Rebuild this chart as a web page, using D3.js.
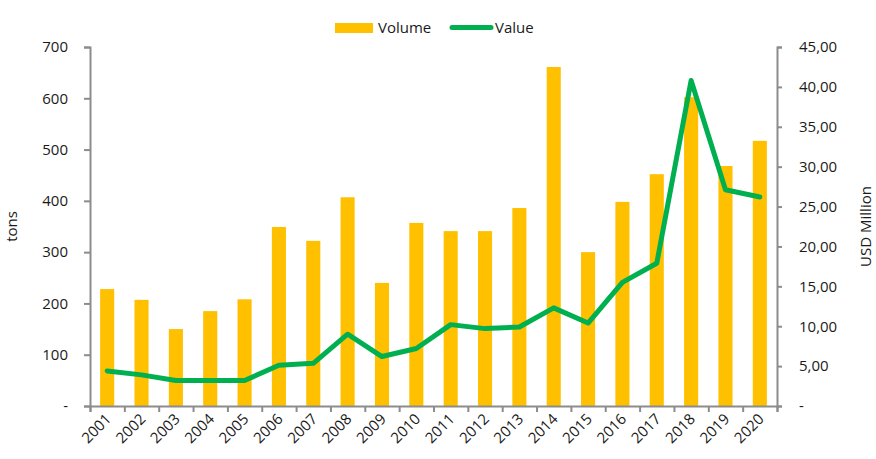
<!DOCTYPE html>
<html>
<head>
<meta charset="utf-8">
<script src="https://cdn.jsdelivr.net/npm/d3@7"></script>
<style>
  body { margin: 0; background: #fff; }
  text { font-family: "Open Sans", sans-serif; fill: #1a1a1a; }
</style>
</head>
<body>
<div></div>
<script>
const years = ["2001","2002","2003","2004","2005","2006","2007","2008","2009","2010",
               "2011","2012","2013","2014","2015","2016","2017","2018","2019","2020"];
const volume = [228, 207, 150, 185, 208, 349, 322, 407, 240, 357,
                341, 341, 386, 661, 300, 398, 452, 602, 468, 517];
const value = [4.4, 3.9, 3.2, 3.2, 3.2, 5.1, 5.35, 9.0, 6.2, 7.2,
               10.2, 9.7, 9.9, 12.3, 10.4, 15.5, 17.9, 40.8, 27.1, 26.2];
const leftTicks = [0, 100, 200, 300, 400, 500, 600, 700];
const rightTicks = [0, 5, 10, 15, 20, 25, 30, 35, 40, 45];

const W = 876, H = 459;
const margin = {left: 90, right: 99, top: 47, bottom: 53};
const fs = 15;

const svg = d3.select("div").append("svg").attr("width", W).attr("height", H);

const x = d3.scaleBand().domain(years).range([margin.left, W - margin.right]).paddingInner(0).paddingOuter(0);
const yL = d3.scaleLinear().domain([0, 700]).range([H - margin.bottom, margin.top]);
const yR = d3.scaleLinear().domain([0, 45]).range([H - margin.bottom, margin.top]);

const barW = x.bandwidth() * 0.41;

// bars
svg.append("g").selectAll("rect").data(years).join("rect")
  .attr("x", d => x(d) + (x.bandwidth() - barW) / 2)
  .attr("width", barW)
  .attr("y", (d, i) => yL(volume[i]))
  .attr("height", (d, i) => yL(0) - yL(volume[i]))
  .attr("fill", "#FFC000");

// line
const line = d3.line()
  .x((d, i) => x(years[i]) + x.bandwidth() / 2)
  .y(d => yR(d));
svg.append("path").datum(value)
  .attr("d", line)
  .attr("fill", "none")
  .attr("stroke", "#00B050")
  .attr("stroke-width", 5)
  .attr("stroke-linejoin", "round")
  .attr("stroke-linecap", "round");

const axisColor = "#8c8c8c";
const fmtL = d => d === 0 ? "-" : d;
const fmtR = d => d === 0 ? "-" : d3.format(".2f")(d).replace(".", ",");

// left axis
const gL = svg.append("g").attr("transform", `translate(${margin.left},0)`)
  .call(d3.axisLeft(yL).tickValues(leftTicks).tickFormat(fmtL).tickSize(6).tickPadding(16));
// right axis
const gR = svg.append("g").attr("transform", `translate(${W - margin.right},0)`)
  .call(d3.axisRight(yR).tickValues(rightTicks).tickFormat(fmtR).tickSize(5).tickPadding(17));
// bottom axis with ticks at category boundaries
const xEdges = d3.scaleLinear().domain([0, years.length]).range([margin.left, W - margin.right]);
const gB = svg.append("g").attr("transform", `translate(0,${H - margin.bottom})`)
  .call(d3.axisBottom(xEdges).tickValues(d3.range(0, years.length + 1)).tickFormat("").tickSize(6));

[gL, gR, gB].forEach(g => {
  g.select(".domain").attr("stroke", axisColor).attr("stroke-width", 2);
  g.selectAll(".tick line").attr("stroke", axisColor).attr("stroke-width", 2);
  g.selectAll("text").attr("font-size", fs).attr("font-family", "'Open Sans', sans-serif").attr("fill", "#1a1a1a");
});

// x labels
svg.append("g").selectAll("text").data(years).join("text")
  .attr("transform", d => `translate(${x(d) + x.bandwidth() / 2 + 5},${H - margin.bottom + 14}) rotate(-45)`)
  .attr("text-anchor", "end")
  .attr("font-size", fs)
  .text(d => d);

// axis titles
svg.append("text")
  .attr("transform", `translate(17,${(yL(0) + yL(700)) / 2}) rotate(-90)`)
  .attr("text-anchor", "middle").attr("font-size", fs)
  .text("tons");
svg.append("text")
  .attr("transform", `translate(871,${(yL(0) + yL(700)) / 2}) rotate(-90)`)
  .attr("text-anchor", "middle").attr("font-size", fs)
  .text("USD Million");

// legend
const lg = svg.append("g");
lg.append("rect").attr("x", 335).attr("y", 23).attr("width", 38).attr("height", 10).attr("fill", "#FFC000");
lg.append("text").attr("x", 378).attr("y", 33).attr("font-size", fs).text("Volume");
lg.append("line").attr("x1", 452).attr("x2", 491).attr("y1", 27.5).attr("y2", 27.5)
  .attr("stroke", "#00B050").attr("stroke-width", 5).attr("stroke-linecap", "round");
lg.append("text").attr("x", 495).attr("y", 33).attr("font-size", fs).text("Value");
</script>
</body>
</html>
